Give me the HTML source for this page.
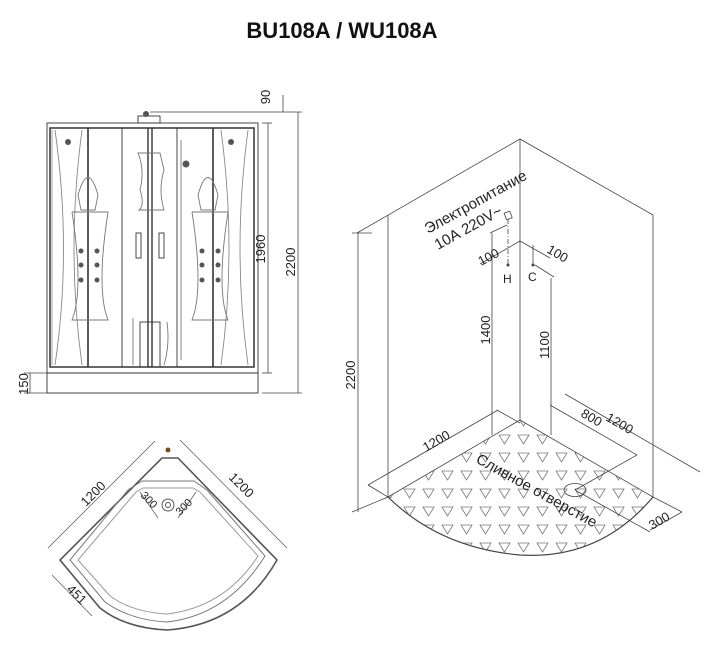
<!DOCTYPE html>
<html><head><meta charset="utf-8"><style>
html,body{margin:0;padding:0;background:#fff;}
svg{display:block;}
text{font-family:"Liberation Sans",sans-serif;fill:#222;}
</style></head><body>
<svg width="720" height="658" viewBox="0 0 720 658" xmlns="http://www.w3.org/2000/svg">
<defs>
<pattern id="tri" x="2" y="0" width="19" height="18" patternUnits="userSpaceOnUse">
<path d="M3 3 L14 3 L8.5 12 Z" fill="none" stroke="#777" stroke-width="0.8"/>
</pattern>
<clipPath id="floor"><path d="M388 497 L520 420 L653 497 Q600 560 520 555 Q440 548 388 497 Z"/></clipPath>
</defs>
<text x="342" y="38" text-anchor="middle" font-size="22" font-weight="bold" style="fill:#111">BU108A / WU108A</text>

<!-- FRONT VIEW -->
<g fill="none" stroke="#333" stroke-width="0.9">
<rect x="47" y="123" width="211" height="270"/>
<rect x="50" y="128" width="204" height="239" stroke-width="1.5"/>
<line x1="47" y1="373" x2="258" y2="373"/>
<rect x="138" y="116" width="22" height="7"/>
<line x1="88" y1="128" x2="88" y2="367" stroke-width="1.6"/>
<line x1="122" y1="128" x2="122" y2="367"/>
<line x1="148" y1="128" x2="148" y2="367" stroke-width="1.4"/>
<line x1="152" y1="128" x2="152" y2="367" stroke-width="1.4"/>
<line x1="177" y1="128" x2="177" y2="367"/>
<line x1="213" y1="128" x2="213" y2="367" stroke-width="1.6"/>
<path d="M55 130 Q72 250 55 365 M82 130 Q66 250 82 365" stroke="#888"/>
<path d="M248 130 Q232 250 248 365 M221 130 Q237 250 221 365" stroke="#888"/>
<path d="M78 195 Q88 160 98 195 L95 210 L81 210 Z M72 212 L108 212 Q96 290 108 320 L72 320 Q84 290 72 212" stroke="#777"/>
<path d="M198 195 Q208 160 218 195 L215 210 L201 210 Z M192 212 L228 212 Q216 290 228 320 L192 320 Q204 290 192 212" stroke="#777"/>
<path d="M138 153 Q145 170 140 190 Q145 205 139 210 L164 210 Q158 190 164 170 L160 153 Z" stroke="#777"/>
<rect x="136" y="233" width="5" height="25"/><rect x="159" y="233" width="5" height="25"/>
<rect x="140" y="322" width="20" height="45"/>
<path d="M133 318 L133 365 M167 322 Q170 345 164 365" stroke="#777"/>
<path d="M181 140 L181 360" stroke="#777"/>
<line x1="52" y1="130" x2="52" y2="365" stroke="#999"/>
</g>
<g fill="#555">
<circle cx="68" cy="142" r="3"/><circle cx="231" cy="142" r="3"/>
<circle cx="186" cy="164" r="3.5"/><circle cx="146" cy="114" r="3"/>
<circle cx="81" cy="251" r="2.5"/><circle cx="97" cy="251" r="2.5"/>
<circle cx="81" cy="265" r="2.5"/><circle cx="97" cy="265" r="2.5"/>
<circle cx="81" cy="280" r="2.5"/><circle cx="97" cy="280" r="2.5"/>
<circle cx="202" cy="251" r="2.5"/><circle cx="218" cy="251" r="2.5"/>
<circle cx="202" cy="265" r="2.5"/><circle cx="218" cy="265" r="2.5"/>
<circle cx="202" cy="280" r="2.5"/><circle cx="218" cy="280" r="2.5"/>
</g>
<g stroke="#444" stroke-width="0.8" fill="none">
<line x1="150" y1="112" x2="302" y2="112"/>
<line x1="262" y1="123" x2="272" y2="123"/><line x1="262" y1="373" x2="272" y2="373"/>
<line x1="268" y1="123" x2="268" y2="373"/>
<line x1="298" y1="112" x2="298" y2="393"/>
<line x1="262" y1="393" x2="302" y2="393"/>
<line x1="283" y1="95" x2="283" y2="112"/>
<line x1="24" y1="373" x2="47" y2="373"/><line x1="24" y1="393" x2="47" y2="393"/>
<line x1="30" y1="373" x2="30" y2="393"/>
</g>
<g font-size="13">
<text transform="translate(270,97) rotate(-90)" text-anchor="middle">90</text>
<text transform="translate(265,249) rotate(-90)" text-anchor="middle">1960</text>
<text transform="translate(295,262) rotate(-90)" text-anchor="middle">2200</text>
<text transform="translate(28,384) rotate(-90)" text-anchor="middle">150</text>
</g>

<!-- ISO VIEW -->
<rect x="380" y="410" width="280" height="150" fill="url(#tri)" clip-path="url(#floor)"/>
<g fill="none" stroke="#444" stroke-width="0.8">
<path d="M357 233 L520 139 L653 215 L653 497"/>
<line x1="388" y1="215" x2="388" y2="497"/>
<line x1="520" y1="139" x2="520" y2="420"/>
<path d="M388 497 L520 420 L653 497"/>
<path d="M388 497 Q440 548 520 555 Q600 560 653 497" stroke-width="1.2"/>
<line x1="358" y1="233" x2="358" y2="512"/>
<line x1="352" y1="233" x2="372" y2="233"/><line x1="352" y1="512" x2="388" y2="497"/>
<line x1="368" y1="485" x2="498" y2="410"/>
<line x1="368" y1="485" x2="388" y2="497"/><line x1="497" y1="410" x2="520" y2="423"/>
<line x1="550" y1="405" x2="637" y2="455"/>
<line x1="637" y1="455" x2="575" y2="490"/>
<line x1="565" y1="394" x2="700" y2="472"/>
<line x1="650" y1="530" x2="682" y2="512"/>
<line x1="653" y1="497" x2="682" y2="512"/>
<line x1="575" y1="490" x2="650" y2="532"/>
<line x1="492" y1="233" x2="492" y2="435"/>
<line x1="490" y1="233" x2="507" y2="225"/>
<line x1="551" y1="278" x2="551" y2="435"/>
<line x1="535" y1="265" x2="554" y2="277"/>
<line x1="480" y1="264" x2="520" y2="241"/>
<line x1="520" y1="241" x2="550" y2="258"/>
<line x1="533" y1="245" x2="533" y2="265"/>
<rect x="505" y="212" width="6" height="7" transform="rotate(-20 508 215)"/>
<line x1="508" y1="219" x2="508" y2="265" stroke-dasharray="5 2 1 2"/>
<ellipse cx="575" cy="490" rx="11" ry="6.5"/>
</g>
<circle cx="508" cy="265" r="1.5" fill="#444"/><circle cx="533" cy="265" r="1.5" fill="#444"/>
<g font-size="13">
<text transform="translate(428,234) rotate(-29)" font-size="15">Электропитание</text>
<text transform="translate(438,250) rotate(-29)" font-size="15">10А 220V~</text>
<text transform="translate(481,266) rotate(-28)">100</text>
<text transform="translate(546,252) rotate(30)">100</text>
<text x="503" y="283" font-size="12" font-family="Liberation Serif">H</text>
<text x="528" y="281" font-size="12" font-family="Liberation Serif">C</text>
<text transform="translate(490,330) rotate(-90)" text-anchor="middle">1400</text>
<text transform="translate(549,345) rotate(-90)" text-anchor="middle">1100</text>
<text transform="translate(355,375) rotate(-90)" text-anchor="middle">2200</text>
<text transform="translate(426,452) rotate(-30)">1200</text>
<text transform="translate(580,416) rotate(30)">800</text>
<text transform="translate(605,420) rotate(30)">1200</text>
<text transform="translate(652,530) rotate(-30)">300</text>
<text transform="translate(475,462) rotate(29)" font-size="15">Сливное отверстие</text>
</g>

<!-- PLAN VIEW -->
<g fill="none" stroke="#555" stroke-width="1">
<path d="M162 458 L178 458 L277 560 Q240 625 167 630 Q125 628 100 608 L60 560 Z" stroke-width="1.6"/>
<path d="M142 481 L194 481 L207 490 L265 556 Q228 615 167 622 Q130 620 105 602 L70 560 L128 490 Z" stroke="#777"/>
<path d="M143 488 L193 488 L200 492 L258 556 Q225 607 167 614 Q132 612 110 596 L78 560 L136 492 Z" stroke="#999"/>
<circle cx="168" cy="505" r="6"/><circle cx="168" cy="505" r="2.5"/>
<line x1="48" y1="548" x2="155" y2="441" stroke-width="0.7"/>
<line x1="180" y1="440" x2="287" y2="548" stroke-width="0.7"/>
<line x1="52" y1="575" x2="92" y2="616" stroke-width="0.7"/>
<line x1="140" y1="492" x2="158" y2="518" stroke-width="0.7"/>
<line x1="196" y1="492" x2="178" y2="518" stroke-width="0.7"/>
</g>
<circle cx="168" cy="450" r="2.5" fill="#7a4a1a"/>
<g font-size="13">
<text transform="translate(86,507) rotate(-45)">1200</text>
<text transform="translate(228,478) rotate(45)">1200</text>
<text transform="translate(66,590) rotate(45)">451</text>
<text transform="translate(140,496) rotate(45)" font-size="11">300</text>
<text transform="translate(180,516) rotate(-45)" font-size="11">300</text>
</g>
</svg>
</body></html>
